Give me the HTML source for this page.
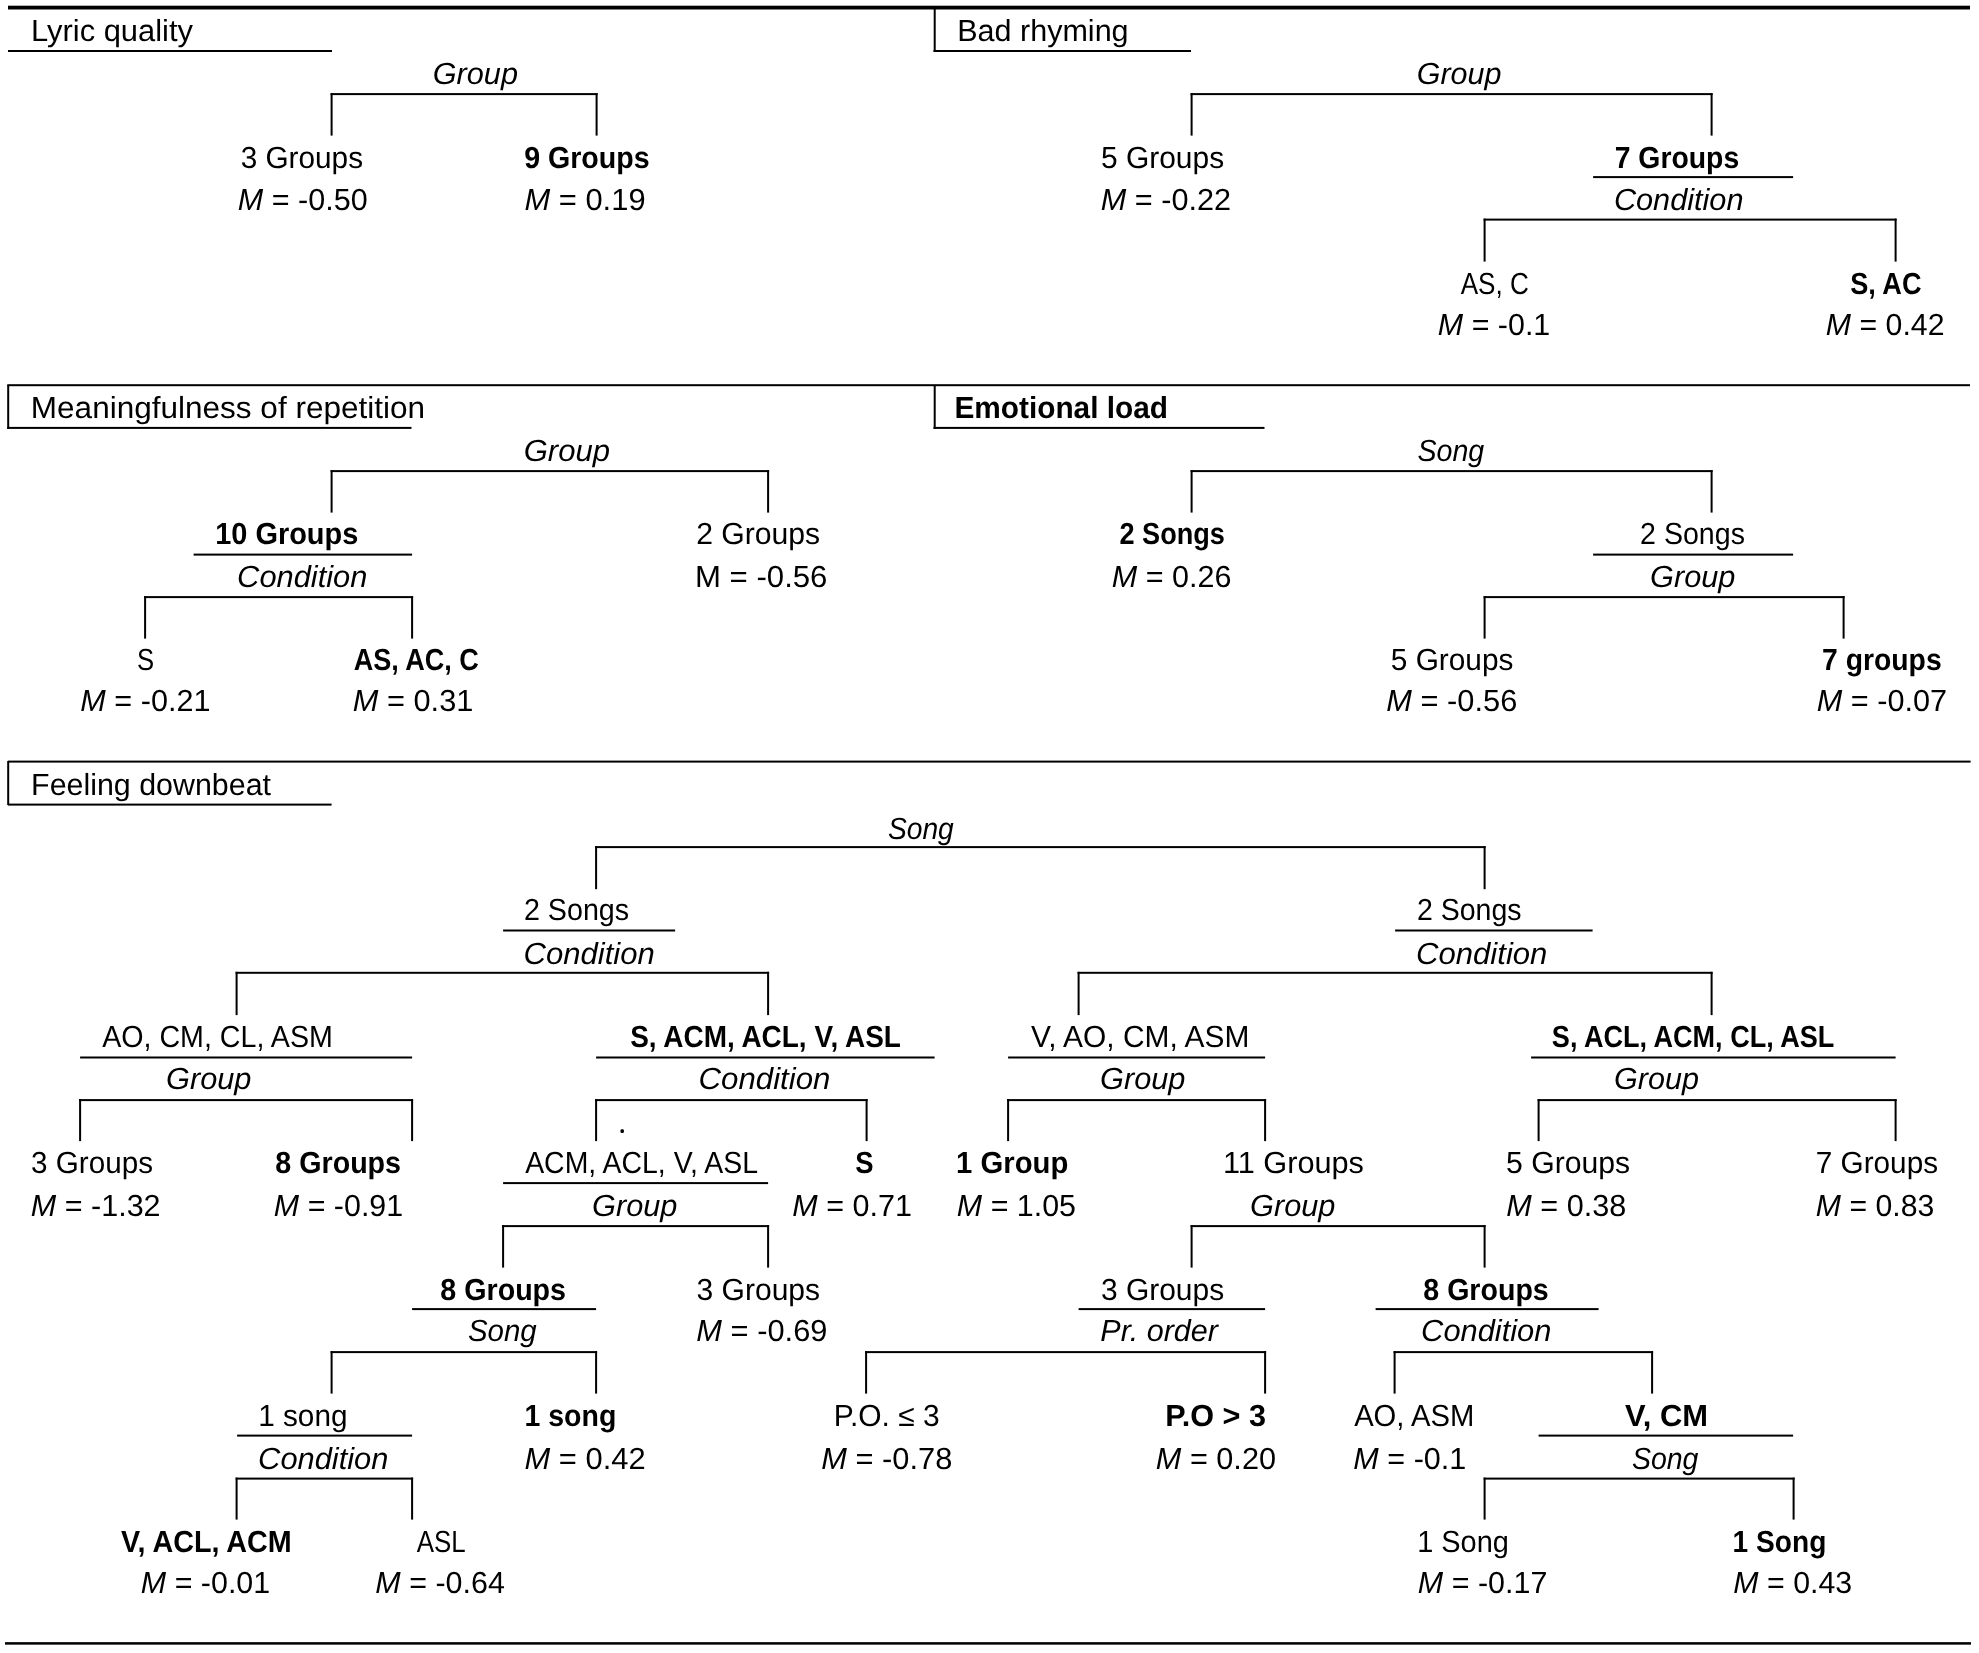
<!DOCTYPE html><html><head><meta charset="utf-8"><style>html,body{margin:0;padding:0;background:#fff;}svg{display:block;will-change:transform}text{text-rendering:geometricPrecision;font-family:"Liberation Sans",sans-serif;font-size:30.5px;fill:#000;white-space:pre}.b{font-weight:bold}.i{font-style:italic}</style></head><body>
<svg width="1979" height="1653" viewBox="0 0 1979 1653">
<g fill="#000"><rect x="8.00" y="5.70" width="1962.00" height="3.80"/><rect x="8.00" y="50.00" width="324.00" height="2.00"/><rect x="933.50" y="50.00" width="257.50" height="2.00"/><rect x="1593.10" y="176.10" width="200.00" height="2.00"/><rect x="7.30" y="384.20" width="1962.70" height="2.00"/><rect x="7.30" y="426.90" width="404.20" height="2.00"/><rect x="933.50" y="426.90" width="331.00" height="2.00"/><rect x="193.60" y="553.60" width="218.50" height="2.00"/><rect x="1593.10" y="553.60" width="200.00" height="2.00"/><rect x="7.90" y="760.60" width="1962.70" height="2.00"/><rect x="7.90" y="803.60" width="323.70" height="2.00"/><rect x="503.10" y="929.50" width="172.00" height="2.00"/><rect x="1395.10" y="929.50" width="197.50" height="2.00"/><rect x="80.10" y="1056.50" width="332.00" height="2.00"/><rect x="596.10" y="1056.50" width="338.50" height="2.00"/><rect x="1008.10" y="1056.50" width="257.00" height="2.00"/><rect x="1531.10" y="1056.50" width="364.50" height="2.00"/><rect x="503.10" y="1182.10" width="265.00" height="2.00"/><rect x="412.10" y="1308.10" width="184.00" height="2.00"/><rect x="1078.60" y="1308.10" width="186.50" height="2.00"/><rect x="1375.60" y="1308.10" width="223.00" height="2.00"/><rect x="237.10" y="1434.60" width="175.00" height="2.00"/><rect x="1538.60" y="1434.60" width="254.50" height="2.00"/><rect x="5.00" y="1642.15" width="1966.00" height="2.50"/><rect x="933.70" y="9.00" width="2.00" height="43.00"/><rect x="7.20" y="385.00" width="2.00" height="44.00"/><rect x="933.70" y="385.00" width="2.00" height="44.00"/><rect x="7.20" y="761.00" width="2.00" height="44.00"/><rect x="330.60" y="93.10" width="267.00" height="2"/><rect x="330.60" y="93.10" width="2" height="42.50"/><rect x="595.60" y="93.10" width="2" height="42.50"/><rect x="1190.60" y="93.10" width="522.00" height="2"/><rect x="1190.60" y="93.10" width="2" height="42.50"/><rect x="1710.60" y="93.10" width="2" height="42.50"/><rect x="1483.60" y="218.60" width="413.00" height="2"/><rect x="1483.60" y="218.60" width="2" height="43.00"/><rect x="1894.60" y="218.60" width="2" height="43.00"/><rect x="330.60" y="470.10" width="438.50" height="2"/><rect x="330.60" y="470.10" width="2" height="42.50"/><rect x="767.10" y="470.10" width="2" height="42.50"/><rect x="144.10" y="596.10" width="269.00" height="2"/><rect x="144.10" y="596.10" width="2" height="42.50"/><rect x="411.10" y="596.10" width="2" height="42.50"/><rect x="1190.60" y="470.10" width="522.00" height="2"/><rect x="1190.60" y="470.10" width="2" height="42.50"/><rect x="1710.60" y="470.10" width="2" height="42.50"/><rect x="1483.60" y="596.10" width="361.00" height="2"/><rect x="1483.60" y="596.10" width="2" height="42.50"/><rect x="1842.60" y="596.10" width="2" height="42.50"/><rect x="595.10" y="846.10" width="890.50" height="2"/><rect x="595.10" y="846.10" width="2" height="43.10"/><rect x="1483.60" y="846.10" width="2" height="43.10"/><rect x="235.60" y="971.80" width="533.50" height="2"/><rect x="235.60" y="971.80" width="2" height="43.30"/><rect x="767.10" y="971.80" width="2" height="43.30"/><rect x="79.10" y="1099.10" width="334.00" height="2"/><rect x="79.10" y="1099.10" width="2" height="42.00"/><rect x="411.10" y="1099.10" width="2" height="42.00"/><rect x="595.10" y="1099.10" width="272.50" height="2"/><rect x="595.10" y="1099.10" width="2" height="42.00"/><rect x="865.60" y="1099.10" width="2" height="42.00"/><rect x="1077.60" y="971.80" width="635.00" height="2"/><rect x="1077.60" y="971.80" width="2" height="43.30"/><rect x="1710.60" y="971.80" width="2" height="43.30"/><rect x="1007.10" y="1099.10" width="259.00" height="2"/><rect x="1007.10" y="1099.10" width="2" height="42.00"/><rect x="1264.10" y="1099.10" width="2" height="42.00"/><rect x="1537.60" y="1099.10" width="359.00" height="2"/><rect x="1537.60" y="1099.10" width="2" height="42.00"/><rect x="1894.60" y="1099.10" width="2" height="42.00"/><rect x="502.10" y="1225.10" width="267.00" height="2"/><rect x="502.10" y="1225.10" width="2" height="42.50"/><rect x="767.10" y="1225.10" width="2" height="42.50"/><rect x="1190.60" y="1225.10" width="295.00" height="2"/><rect x="1190.60" y="1225.10" width="2" height="42.50"/><rect x="1483.60" y="1225.10" width="2" height="42.50"/><rect x="330.60" y="1351.10" width="266.50" height="2"/><rect x="330.60" y="1351.10" width="2" height="42.50"/><rect x="595.10" y="1351.10" width="2" height="42.50"/><rect x="865.10" y="1351.10" width="401.00" height="2"/><rect x="865.10" y="1351.10" width="2" height="42.50"/><rect x="1264.10" y="1351.10" width="2" height="42.50"/><rect x="1393.60" y="1351.10" width="259.50" height="2"/><rect x="1393.60" y="1351.10" width="2" height="42.50"/><rect x="1651.10" y="1351.10" width="2" height="42.50"/><rect x="235.60" y="1477.60" width="177.50" height="2"/><rect x="235.60" y="1477.60" width="2" height="42.00"/><rect x="411.10" y="1477.60" width="2" height="42.00"/><rect x="1483.60" y="1477.60" width="311.00" height="2"/><rect x="1483.60" y="1477.60" width="2" height="42.00"/><rect x="1792.60" y="1477.60" width="2" height="42.00"/><rect x="620.5" y="1129.2" width="3.4" height="3.9" rx="1.3"/></g>
<text transform="translate(31.00 40.80) scale(1.0128 1)">Lyric quality</text>
<text transform="translate(957.25 40.80) scale(1.0006 1)">Bad rhyming</text>
<text class="i" transform="translate(432.74 84.00) scale(1.0052 1)">Group</text>
<text transform="translate(240.65 168.00) scale(0.9755 1)">3 Groups</text>
<text transform="translate(237.86 209.75) scale(1.0011 1)"><tspan font-style="italic">M</tspan> = -0.50</text>
<text class="b" transform="translate(524.17 168.00) scale(0.9372 1)">9 Groups</text>
<text transform="translate(524.45 210.00) scale(1.0132 1)"><tspan font-style="italic">M</tspan> = 0.19</text>
<text class="i" transform="translate(1416.75 84.00) scale(0.9988 1)">Group</text>
<text transform="translate(1100.98 168.00) scale(0.9816 1)">5 Groups</text>
<text transform="translate(1100.79 210.00) scale(1.0045 1)"><tspan font-style="italic">M</tspan> = -0.22</text>
<text class="b" transform="translate(1614.69 168.00) scale(0.9297 1)">7 Groups</text>
<text class="i" transform="translate(1613.90 210.00) scale(1.0054 1)">Condition</text>
<text transform="translate(1460.69 294.00) scale(0.8551 1)">AS, C</text>
<text transform="translate(1437.84 334.50) scale(0.9974 1)"><tspan font-style="italic">M</tspan> = -0.1</text>
<text class="b" transform="translate(1850.21 294.00) scale(0.8885 1)">S, AC</text>
<text transform="translate(1825.84 334.50) scale(0.9923 1)"><tspan font-style="italic">M</tspan> = 0.42</text>
<text transform="translate(30.80 417.90) scale(1.0336 1)">Meaningfulness of repetition</text>
<text class="b" transform="translate(954.39 418.00) scale(0.9773 1)">Emotional load</text>
<text class="i" transform="translate(523.69 461.00) scale(1.0177 1)">Group</text>
<text class="b" transform="translate(215.16 544.00) scale(0.9488 1)">10 Groups</text>
<text class="i" transform="translate(237.11 586.50) scale(1.0109 1)">Condition</text>
<text transform="translate(137.02 670.00) scale(0.8419 1)">S</text>
<text transform="translate(80.35 710.50) scale(1.0033 1)"><tspan font-style="italic">M</tspan> = -0.21</text>
<text class="b" transform="translate(353.63 670.00) scale(0.8868 1)">AS, AC, C</text>
<text transform="translate(352.80 710.50) scale(1.0087 1)"><tspan font-style="italic">M</tspan> = 0.31</text>
<text transform="translate(696.13 544.00) scale(0.9888 1)">2 Groups</text>
<text transform="translate(695.01 586.50) scale(1.0212 1)">M = -0.56</text>
<text class="i" transform="translate(1417.48 461.00) scale(0.9378 1)">Song</text>
<text class="b" transform="translate(1119.46 544.00) scale(0.8888 1)">2 Songs</text>
<text transform="translate(1111.82 586.50) scale(1.0005 1)"><tspan font-style="italic">M</tspan> = 0.26</text>
<text transform="translate(1640.08 544.00) scale(0.9369 1)">2 Songs</text>
<text class="i" transform="translate(1650.07 586.50) scale(1.0069 1)">Group</text>
<text transform="translate(1390.80 670.00) scale(0.9774 1)">5 Groups</text>
<text transform="translate(1386.34 710.50) scale(1.0096 1)"><tspan font-style="italic">M</tspan> = -0.56</text>
<text class="b" transform="translate(1822.08 670.00) scale(0.9284 1)">7 groups</text>
<text transform="translate(1816.79 710.50) scale(1.0045 1)"><tspan font-style="italic">M</tspan> = -0.07</text>
<text transform="translate(31.11 795.00) scale(0.9963 1)">Feeling downbeat</text>
<text class="i" transform="translate(887.93 838.50) scale(0.9249 1)">Song</text>
<text transform="translate(523.92 920.30) scale(0.9400 1)">2 Songs</text>
<text class="i" transform="translate(523.59 963.50) scale(1.0180 1)">Condition</text>
<text transform="translate(102.14 1047.00) scale(0.9389 1)">AO, CM, CL, ASM</text>
<text class="i" transform="translate(166.07 1089.30) scale(1.0069 1)">Group</text>
<text class="b" transform="translate(630.18 1047.00) scale(0.9162 1)">S, ACM, ACL, V, ASL</text>
<text class="i" transform="translate(698.58 1089.30) scale(1.0228 1)">Condition</text>
<text transform="translate(1416.94 920.30) scale(0.9349 1)">2 Songs</text>
<text class="i" transform="translate(1416.11 963.50) scale(1.0184 1)">Condition</text>
<text transform="translate(1030.94 1047.00) scale(0.9809 1)">V, AO, CM, ASM</text>
<text class="i" transform="translate(1100.07 1089.30) scale(1.0069 1)">Group</text>
<text class="b" transform="translate(1551.85 1047.00) scale(0.8868 1)">S, ACL, ACM, CL, ASL</text>
<text class="i" transform="translate(1614.08 1089.30) scale(1.0013 1)">Group</text>
<text transform="translate(31.00 1173.00) scale(0.9721 1)">3 Groups</text>
<text transform="translate(30.81 1215.50) scale(1.0005 1)"><tspan font-style="italic">M</tspan> = -1.32</text>
<text class="b" transform="translate(275.31 1173.00) scale(0.9392 1)">8 Groups</text>
<text transform="translate(273.82 1215.50) scale(0.9975 1)"><tspan font-style="italic">M</tspan> = -0.91</text>
<text transform="translate(525.16 1173.00) scale(0.9320 1)">ACM, ACL, V, ASL</text>
<text class="i" transform="translate(592.07 1215.50) scale(1.0069 1)">Group</text>
<text class="b" transform="translate(855.36 1173.00) scale(0.8985 1)">S</text>
<text transform="translate(792.35 1215.50) scale(1.0012 1)"><tspan font-style="italic">M</tspan> = 0.71</text>
<text class="b" transform="translate(956.08 1173.00) scale(0.9599 1)">1 Group</text>
<text transform="translate(956.86 1215.50) scale(0.9964 1)"><tspan font-style="italic">M</tspan> = 1.05</text>
<text transform="translate(1222.92 1173.00) scale(1.0064 1)">11 Groups</text>
<text class="i" transform="translate(1250.07 1215.50) scale(1.0069 1)">Group</text>
<text transform="translate(1506.06 1173.00) scale(0.9893 1)">5 Groups</text>
<text transform="translate(1506.35 1215.50) scale(1.0035 1)"><tspan font-style="italic">M</tspan> = 0.38</text>
<text transform="translate(1815.78 1173.00) scale(0.9744 1)">7 Groups</text>
<text transform="translate(1815.85 1215.50) scale(0.9908 1)"><tspan font-style="italic">M</tspan> = 0.83</text>
<text class="b" transform="translate(440.31 1299.60) scale(0.9392 1)">8 Groups</text>
<text class="i" transform="translate(467.89 1341.40) scale(0.9662 1)">Song</text>
<text transform="translate(696.50 1299.60) scale(0.9852 1)">3 Groups</text>
<text transform="translate(696.34 1341.40) scale(1.0110 1)"><tspan font-style="italic">M</tspan> = -0.69</text>
<text transform="translate(1100.92 1299.60) scale(0.9823 1)">3 Groups</text>
<text class="i" transform="translate(1100.35 1341.40) scale(1.0010 1)">Pr. order</text>
<text class="b" transform="translate(1423.32 1299.60) scale(0.9367 1)">8 Groups</text>
<text class="i" transform="translate(1421.11 1341.40) scale(1.0109 1)">Condition</text>
<text transform="translate(258.14 1426.00) scale(0.9757 1)">1 song</text>
<text class="i" transform="translate(258.11 1468.50) scale(1.0109 1)">Condition</text>
<text class="b" transform="translate(524.46 1426.00) scale(0.9350 1)">1 song</text>
<text transform="translate(524.45 1468.50) scale(1.0136 1)"><tspan font-style="italic">M</tspan> = 0.42</text>
<text transform="translate(833.81 1426.00) scale(0.9828 1)">P.O. ≤ 3</text>
<text transform="translate(821.34 1468.50) scale(1.0099 1)"><tspan font-style="italic">M</tspan> = -0.78</text>
<text class="b" transform="translate(1165.33 1426.00) scale(1.0028 1)">P.O &gt; 3</text>
<text transform="translate(1155.81 1468.50) scale(1.0054 1)"><tspan font-style="italic">M</tspan> = 0.20</text>
<text transform="translate(1354.13 1426.00) scale(0.9582 1)">AO, ASM</text>
<text transform="translate(1353.35 1468.50) scale(1.0021 1)"><tspan font-style="italic">M</tspan> = -0.1</text>
<text class="b" transform="translate(1625.03 1426.00) scale(1.0132 1)">V, CM</text>
<text class="i" transform="translate(1631.91 1468.50) scale(0.9335 1)">Song</text>
<text class="b" transform="translate(121.02 1551.80) scale(0.9418 1)">V, ACL, ACM</text>
<text transform="translate(140.82 1592.70) scale(0.9975 1)"><tspan font-style="italic">M</tspan> = -0.01</text>
<text transform="translate(416.69 1551.80) scale(0.8489 1)">ASL</text>
<text transform="translate(375.35 1592.70) scale(0.9987 1)"><tspan font-style="italic">M</tspan> = -0.64</text>
<text transform="translate(1417.15 1551.80) scale(0.9481 1)">1 Song</text>
<text transform="translate(1417.82 1592.70) scale(0.9985 1)"><tspan font-style="italic">M</tspan> = -0.17</text>
<text class="b" transform="translate(1732.56 1551.80) scale(0.9221 1)">1 Song</text>
<text transform="translate(1733.36 1592.70) scale(0.9941 1)"><tspan font-style="italic">M</tspan> = 0.43</text>
</svg></body></html>
